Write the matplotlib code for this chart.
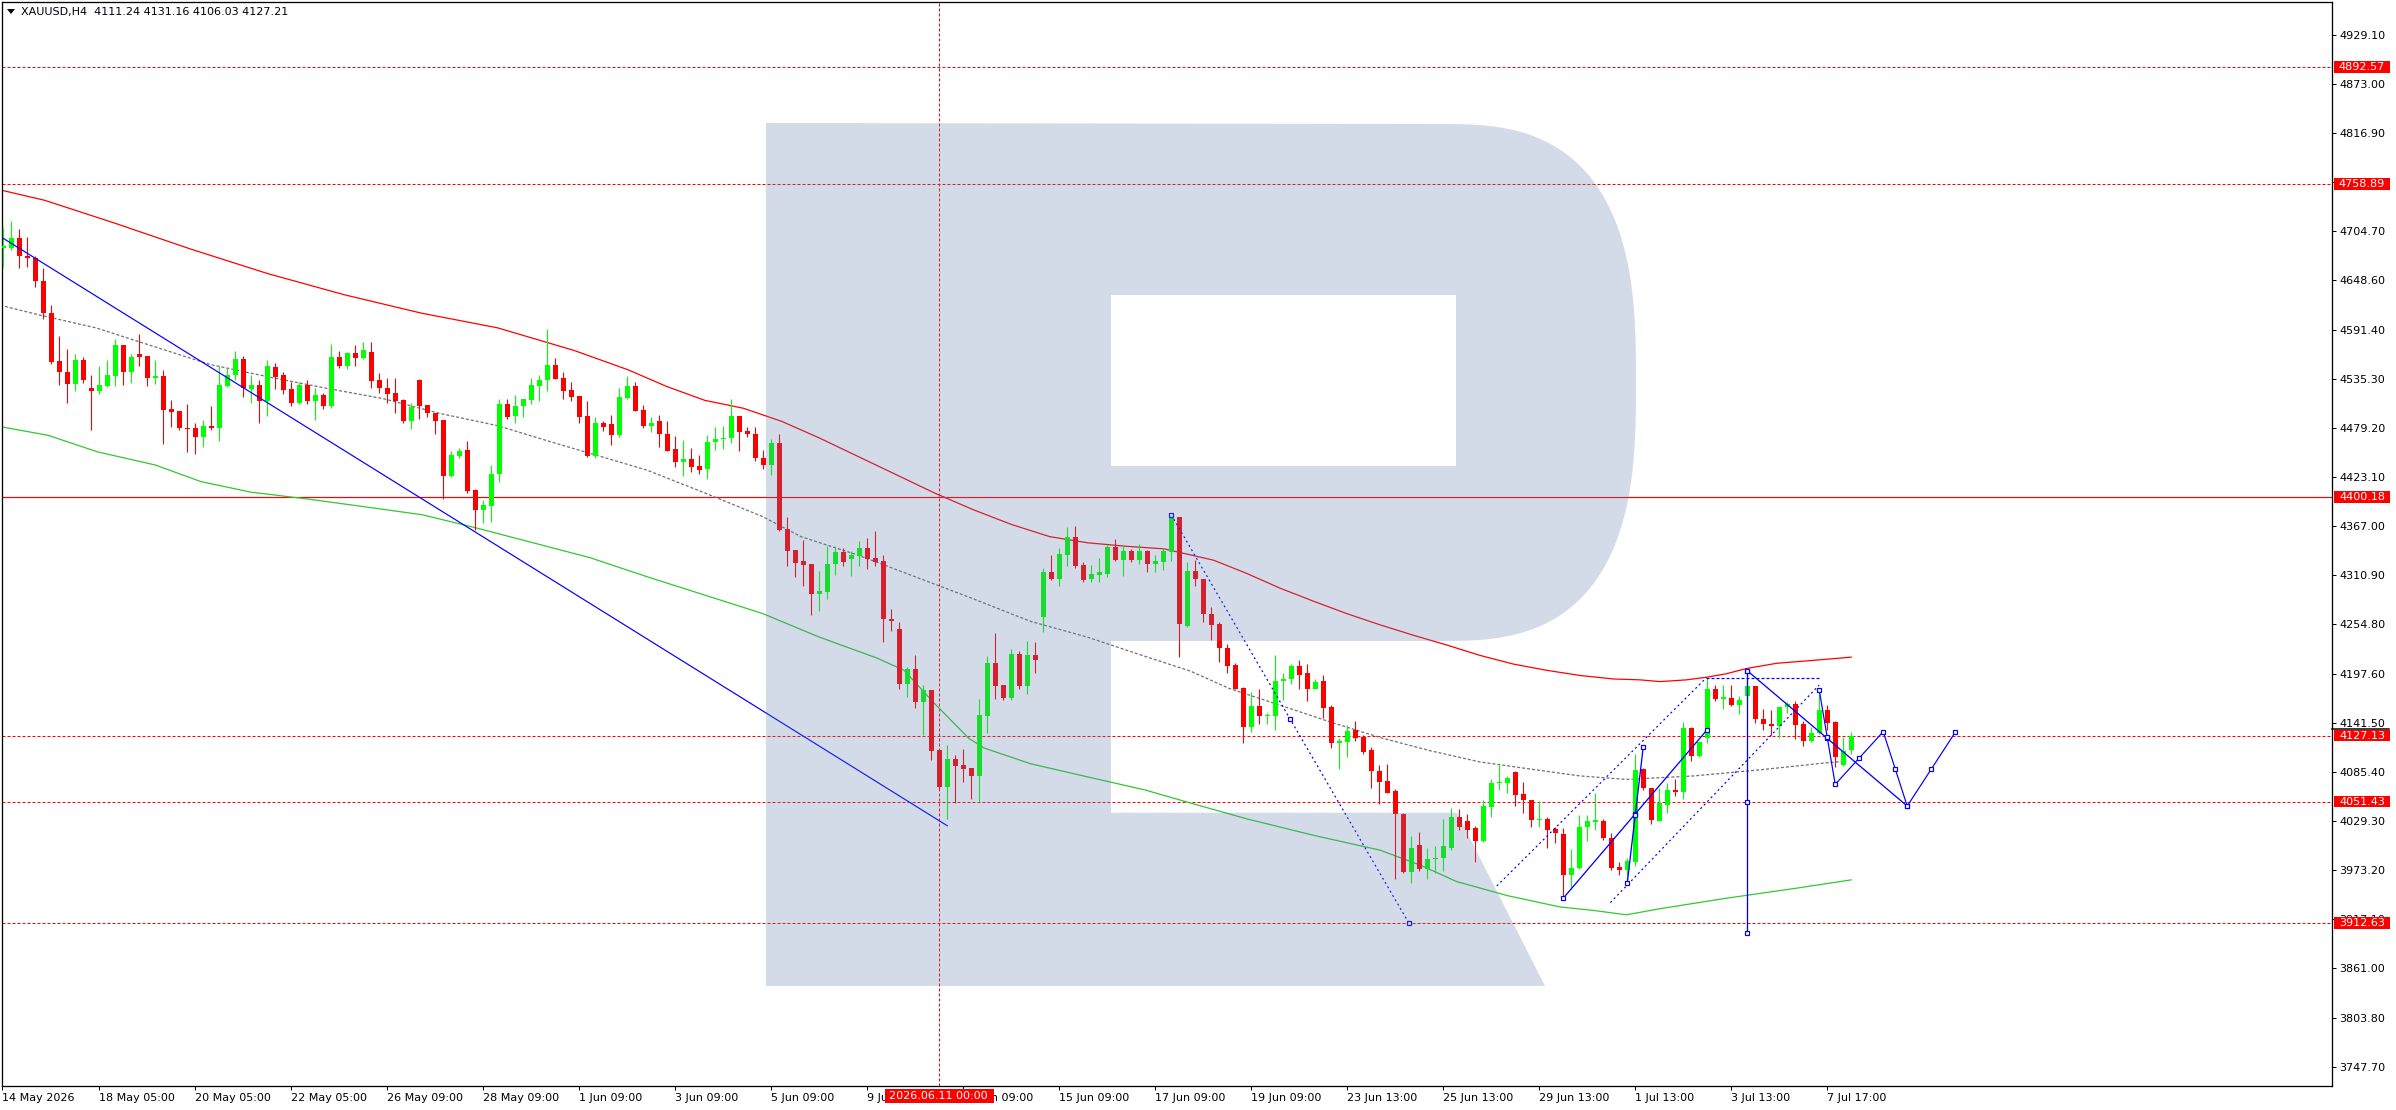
import numpy as np
import matplotlib
matplotlib.use("Agg")
import matplotlib.pyplot as plt
from matplotlib.patches import Rectangle, PathPatch, Polygon
from matplotlib.path import Path
from matplotlib.transforms import Affine2D

W, H = 2396, 1110
PX = 0.72  # one pixel in points at dpi 100

plt.rcParams['font.family'] = ['DejaVu Sans']
plt.rcParams['lines.scale_dashes'] = False

# XAUUSD H4 candles (bar 0 = 14 May 2026)
opens = [4686, 4686, 4697, 4676, 4674, 4648, 4611, 4556, 4543, 4530, 4557, 4525,
         4522, 4527, 4539, 4574, 4544, 4564, 4562, 4537, 4539, 4501, 4499, 4479,
         4479, 4469, 4482, 4479, 4528, 4540, 4558, 4524, 4529, 4510, 4549, 4540,
         4524, 4508, 4529, 4510, 4517, 4504, 4561, 4550, 4565, 4560, 4566, 4534,
         4525, 4520, 4511, 4487, 4534, 4506, 4496, 4488, 4424, 4447, 4454, 4408,
         4385, 4390, 4427, 4507, 4493, 4504, 4511, 4528, 4534, 4552, 4537, 4523,
         4516, 4493, 4447, 4485, 4484, 4471, 4514, 4527, 4500, 4482, 4487, 4473,
         4455, 4440, 4444, 4436, 4432, 4463, 4467, 4468, 4493, 4476, 4473, 4445,
         4437, 4462, 4364, 4340, 4327, 4324, 4289, 4292, 4324, 4337, 4329, 4333,
         4342, 4331, 4327, 4261, 4249, 4186, 4203, 4166, 4179, 4111, 4068, 4100,
         4094, 4090, 4081, 4150, 4210, 4185, 4170, 4221, 4184, 4219, 4263, 4314,
         4307, 4334, 4354, 4323, 4306, 4311, 4312, 4343, 4328, 4339, 4328, 4339,
         4324, 4326, 4337, 4377, 4253, 4316, 4307, 4266, 4255, 4228, 4208, 4182,
         4137, 4161, 4150, 4150, 4190, 4192, 4207, 4199, 4181, 4190, 4160, 4119,
         4120, 4134, 4126, 4111, 4087, 4075, 4064, 4037, 3971, 4002, 3975, 3986,
         3987, 3999, 4034, 4029, 4021, 4006, 4046, 4073, 4073, 4085, 4060, 4053,
         4030, 4032, 4020, 4015, 3968, 3976, 4022, 4028, 4029, 4010, 3977, 3973,
         3983, 4089, 4067, 4029, 4048, 4065, 4063, 4136, 4104, 4124, 4181, 4169,
         4170, 4162, 4172, 4184, 4146, 4141, 4138, 4160, 4163, 4140, 4121, 4130,
         4157, 4143, 4094, 4111.24]
highs = [4710, 4716, 4707, 4698, 4676, 4662, 4620, 4585, 4570, 4564, 4561, 4540,
         4550, 4557, 4581, 4574, 4564, 4587, 4562, 4557, 4546, 4511, 4499, 4507,
         4485, 4489, 4505, 4550, 4548, 4568, 4562, 4540, 4534, 4557, 4554, 4543,
         4532, 4532, 4534, 4525, 4519, 4576, 4568, 4566, 4574, 4578, 4578, 4542,
         4537, 4537, 4513, 4508, 4535, 4506, 4496, 4489, 4453, 4456, 4464, 4410,
         4397, 4437, 4512, 4513, 4517, 4513, 4537, 4540, 4593, 4559, 4543, 4532,
         4516, 4510, 4492, 4487, 4494, 4525, 4539, 4532, 4506, 4492, 4494, 4487,
         4470, 4466, 4457, 4449, 4471, 4481, 4482, 4513, 4493, 4480, 4480, 4454,
         4467, 4473, 4378, 4340, 4351, 4324, 4316, 4344, 4344, 4342, 4338, 4350,
         4353, 4362, 4334, 4272, 4257, 4206, 4220, 4185, 4179, 4111, 4116, 4105,
         4112, 4090, 4169, 4218, 4245, 4185, 4226, 4224, 4235, 4234, 4319, 4334,
         4342, 4366, 4367, 4326, 4323, 4331, 4345, 4352, 4345, 4341, 4347, 4340,
         4334, 4342, 4382, 4378, 4326, 4328, 4307, 4274, 4257, 4232, 4210, 4183,
         4177, 4181, 4153, 4219, 4199, 4209, 4214, 4209, 4192, 4197, 4162, 4124,
         4139, 4144, 4128, 4114, 4094, 4095, 4066, 4039, 4012, 4017, 3999, 4001,
         4032, 4044, 4043, 4037, 4024, 4053, 4077, 4095, 4081, 4087, 4074, 4053,
         4052, 4034, 4023, 4021, 3997, 4036, 4036, 4061, 4032, 4016, 3983, 3987,
         4106, 4090, 4067, 4067, 4073, 4078, 4143, 4137, 4121, 4193, 4185, 4185,
         4185, 4173, 4190, 4184, 4158, 4157, 4160, 4166, 4167, 4144, 4137, 4179,
         4162, 4144, 4126, 4131.16]
lows = [4664, 4683, 4663, 4664, 4641, 4604, 4553, 4529, 4508, 4522, 4531, 4477,
        4518, 4526, 4527, 4529, 4531, 4550, 4528, 4530, 4461, 4481, 4477, 4452,
        4450, 4458, 4477, 4464, 4526, 4534, 4515, 4508, 4485, 4493, 4524, 4518,
        4504, 4507, 4507, 4488, 4501, 4502, 4548, 4547, 4550, 4558, 4525, 4520,
        4508, 4496, 4485, 4478, 4490, 4492, 4473, 4398, 4423, 4445, 4405, 4363,
        4371, 4372, 4418, 4490, 4485, 4492, 4507, 4510, 4522, 4535, 4513, 4510,
        4485, 4446, 4445, 4476, 4460, 4469, 4513, 4499, 4479, 4475, 4458, 4453,
        4435, 4424, 4429, 4427, 4421, 4454, 4455, 4462, 4453, 4469, 4442, 4432,
        4426, 4362, 4321, 4309, 4298, 4265, 4270, 4284, 4311, 4321, 4310, 4321,
        4318, 4321, 4234, 4247, 4181, 4171, 4159, 4128, 4099, 4066, 4032, 4050,
        4074, 4055, 4052, 4130, 4169, 4168, 4168, 4181, 4175, 4199, 4246, 4305,
        4298, 4321, 4319, 4303, 4303, 4303, 4309, 4327, 4310, 4326, 4324, 4315,
        4315, 4317, 4327, 4217, 4251, 4299, 4257, 4237, 4212, 4199, 4180, 4119,
        4131, 4140, 4140, 4134, 4168, 4186, 4181, 4167, 4180, 4147, 4113, 4089,
        4103, 4121, 4106, 4067, 4049, 4062, 3963, 3970, 3958, 3972, 3963, 3970,
        3972, 3996, 4019, 4010, 3982, 4005, 4034, 4065, 4061, 4047, 4038, 4022,
        4023, 3998, 4004, 3943, 3951, 3975, 4006, 4019, 4008, 3973, 3968, 3962,
        3978, 4065, 4026, 4029, 4039, 4058, 4055, 4098, 4103, 4119, 4167, 4158,
        4161, 4152, 4167, 4142, 4134, 4128, 4125, 4153, 4123, 4115, 4120, 4129,
        4134, 4091, 4092, 4106.03]
closes = [4688, 4697, 4676, 4674, 4648, 4611, 4555, 4543, 4530, 4557, 4534, 4522,
          4529, 4540, 4574, 4544, 4561, 4561, 4537, 4539, 4500, 4498, 4479, 4478,
          4469, 4482, 4479, 4529, 4540, 4558, 4525, 4529, 4510, 4550, 4538, 4523,
          4508, 4529, 4510, 4517, 4504, 4561, 4550, 4565, 4560, 4569, 4533, 4525,
          4518, 4510, 4487, 4503, 4505, 4496, 4487, 4424, 4448, 4453, 4407, 4385,
          4391, 4427, 4507, 4492, 4505, 4513, 4529, 4534, 4552, 4536, 4522, 4515,
          4492, 4447, 4485, 4480, 4471, 4515, 4527, 4499, 4482, 4485, 4473, 4453,
          4440, 4444, 4435, 4431, 4463, 4467, 4468, 4493, 4475, 4473, 4445, 4437,
          4462, 4363, 4339, 4325, 4323, 4289, 4293, 4324, 4337, 4326, 4334, 4342,
          4329, 4326, 4261, 4258, 4186, 4203, 4166, 4179, 4110, 4068, 4100, 4092,
          4089, 4081, 4151, 4210, 4184, 4170, 4221, 4184, 4219, 4214, 4314, 4307,
          4335, 4354, 4321, 4305, 4312, 4315, 4343, 4328, 4339, 4328, 4339, 4324,
          4327, 4338, 4377, 4255, 4316, 4306, 4266, 4254, 4228, 4207, 4181, 4137,
          4161, 4150, 4151, 4190, 4192, 4207, 4197, 4181, 4189, 4159, 4119, 4121,
          4133, 4125, 4108, 4087, 4074, 4062, 4037, 3971, 3998, 3975, 3986, 3987,
          4001, 4034, 4023, 4019, 4006, 4047, 4073, 4074, 4079, 4059, 4053, 4030,
          4032, 4019, 4016, 3968, 3976, 4022, 4029, 4030, 4010, 3976, 3973, 3984,
          4088, 4067, 4031, 4050, 4065, 4063, 4136, 4104, 4120, 4181, 4169, 4171,
          4162, 4168, 4184, 4146, 4140, 4138, 4160, 4163, 4139, 4121, 4130, 4157,
          4142, 4103, 4109, 4127.21]

# moving averages (bar position, price)
red_ma_x = [-0.4, 5.2, 13.9, 23.5, 33.1, 42.6, 52.2, 61.8, 71.4, 78.1,
            82.9, 87.7, 92.5, 97.3, 102.0, 106.8, 111.6, 116.4, 121.2, 126.0,
            130.8, 135.5, 140.3, 145.1, 151.3, 155.4, 159.6, 163.8, 167.9, 172.1,
            176.3, 180.4, 184.6, 188.8, 192.9, 197.1, 201.3, 204.6, 207.1, 210.4,
            212.9, 215.4, 217.9, 221.7, 225.8, 231.0]
red_ma_y = [4752, 4740, 4714, 4684, 4656, 4632, 4611, 4594, 4568, 4546,
            4527, 4511, 4502, 4487, 4468, 4447, 4426, 4405, 4386, 4369,
            4355, 4348, 4344, 4341, 4328, 4313, 4296, 4281, 4267, 4254,
            4242, 4231, 4219, 4209, 4202, 4196, 4192, 4191, 4189, 4191,
            4194, 4198, 4204, 4210, 4213, 4217]
green_ma_x = [-0.4, 5.6, 11.8, 19.0, 24.7, 30.9, 38.1, 45.3, 52.4, 59.1,
              73.3, 80.5, 87.7, 94.9, 102.0, 109.2, 112.6, 116.4, 120.7, 122.6,
              128.4, 135.5, 142.7, 148.4, 155.4, 163.8, 172.1, 177.1, 181.7, 188.0,
              194.6, 198.8, 202.9, 207.1, 215.4, 223.8, 231.0]
green_ma_y = [4481, 4471, 4452, 4437, 4418, 4406, 4398, 4389, 4380, 4365,
              4331, 4309, 4288, 4267, 4240, 4216, 4202, 4164, 4124, 4113,
              4095, 4080, 4065, 4050, 4032, 4013, 3996, 3979, 3960, 3944,
              3931, 3927, 3922, 3929, 3941, 3952, 3962]
gray_ma_x = [-0.4, 4.4, 11.6, 18.7, 25.9, 33.1, 40.3, 47.5, 54.6, 61.8,
             69.0, 74.6, 80.5, 87.7, 94.9, 99.7, 106.8, 114.0, 121.2, 128.4,
             135.5, 142.7, 148.4, 153.3, 159.6, 165.8, 172.1, 178.3, 184.6, 190.8,
             197.1, 202.9, 211.3, 219.6, 227.9, 230.4]
gray_ma_y = [4620, 4609, 4594, 4573, 4552, 4538, 4525, 4513, 4496, 4482,
             4462, 4447, 4431, 4405, 4378, 4355, 4334, 4309, 4284, 4258,
             4240, 4218, 4201, 4181, 4162, 4143, 4125, 4110, 4097, 4089,
             4081, 4077, 4081, 4088, 4096, 4098]

# horizontal levels
dashed_levels = [4892.57, 4758.89, 4127.13, 4051.43, 3912.63]
solid_level = 4400.18
vline_bar = 117
vline_label = '2026.06.11 00:00'

# drawn objects (bar, price)
trend_x, trend_y = [0, 118], [4696.5, 4024]
drop_x, drop_y = [146, 175.7], [4380, 3912.6]
chan_up_x, chan_up_y = [186.7, 212.9], [3955, 4193.5]
chan_lo_x, chan_lo_y = [200.9, 227.0], [3936, 4185]
chan_top_x, chan_top_y = [212.9, 227.1], [4193.5, 4193.5]
wave1_x, wave1_y = [195, 213], [3941, 4134]
wave2_x, wave2_y = [203, 205], [3958, 4114]
vert_x, vert_y = [218, 218], [4201.5, 3900.7]
diag_x, diag_y = [218, 238], [4201.5, 4046.5]
fc_x = [227, 229, 235, 238, 244]
fc_y = [4179.4, 4071.3, 4131.7, 4046.5, 4130.9]

price_ticks = [4929.10, 4873.00, 4816.90, 4760.80, 4704.70, 4648.60, 4591.40,
               4535.30, 4479.20, 4423.10, 4367.00, 4310.90, 4254.80, 4197.60,
               4141.50, 4085.40, 4029.30, 3973.20, 3917.10, 3861.00, 3803.80, 3747.70]
time_ticks = [-0.16, 12, 24, 36, 48, 60, 72, 84, 96, 108, 120, 132, 144, 156,
              168, 180, 192, 204, 216, 228]
time_labels = ['14 May 2026', '18 May 05:00', '20 May 05:00', '22 May 05:00',
               '26 May 09:00', '28 May 09:00', '1 Jun 09:00', '3 Jun 09:00',
               '5 Jun 09:00', '9 Jun 09:00', '11 Jun 09:00', '15 Jun 09:00',
               '17 Jun 09:00', '19 Jun 09:00', '23 Jun 13:00', '25 Jun 13:00',
               '29 Jun 13:00', '1 Jul 13:00', '3 Jul 13:00', '7 Jul 17:00']
title = 'XAUUSD,H4  4111.24 4131.16 4106.03 4127.21'

fig = plt.figure(figsize=(W / 100, H / 100), dpi=100)
fig.patch.set_facecolor('white')
ax = fig.add_axes([2 / W, 24 / H, 2330 / W, 1084 / H])
ax.set_xlim(-0.16, 291.1)
ax.set_ylim(3726.0, 4967.1)
pix = Affine2D().scale(1 / W, -1 / H).translate(0, 1) + fig.transFigure

dash = (3 * PX, 2 * PX)
dot = (2 * PX, 3 * PX)

# levels
for lv in dashed_levels:
    ax.axhline(lv, color='#FF0000', lw=PX, dashes=dash, zorder=1)
ax.axhline(solid_level, color='#FF0000', lw=PX * 1.2, zorder=1)
ax.axvline(vline_bar, color='#FF0000', lw=PX, dashes=dash, zorder=1)

# moving averages
ax.plot(red_ma_x, red_ma_y, color='#FF0000', lw=0.9, zorder=2)
ax.plot(green_ma_x, green_ma_y, color='#32C832', lw=0.9, zorder=2)
ax.plot(gray_ma_x, gray_ma_y, color='#707070', lw=0.9, dashes=dash, zorder=2)

# candles
o, h, l, c = (np.array(a, dtype=float) for a in (opens, highs, lows, closes))
idx = np.arange(len(c))
cols = np.where(c >= o, '#00FF00', '#FF0000')
ax.vlines(idx, l, h, colors=cols, lw=PX * 1.1, zorder=3)
ax.bar(idx, np.maximum(np.abs(c - o), 1.3), bottom=np.minimum(o, c), width=0.6,
       color=cols, linewidth=0, zorder=3)

# analysis objects
blue = '#0000FF'
mk = dict(marker='s', ms=3.2, mfc='white', mec=blue, mew=PX * 1.2)
ax.plot(trend_x, trend_y, color=blue, lw=PX * 1.2, zorder=4)
ax.plot(drop_x, drop_y, color=blue, lw=PX * 1.2, dashes=dot, zorder=4)
ax.plot(drop_x + [np.mean(drop_x)], drop_y + [np.mean(drop_y)], ls='none', zorder=5,
        **dict(mk, ms=2.4))
ax.plot(chan_up_x, chan_up_y, color=blue, lw=PX * 1.2, dashes=dot, zorder=4)
ax.plot(chan_lo_x, chan_lo_y, color=blue, lw=PX * 1.2, dashes=dot, zorder=4)
ax.plot(chan_top_x, chan_top_y, color=blue, lw=PX * 1.2, dashes=dash, zorder=4)
for xs, ys in [(wave1_x, wave1_y), (wave2_x, wave2_y), (vert_x, vert_y), (diag_x, diag_y)]:
    ax.plot(xs, ys, color=blue, lw=PX * 1.3, zorder=4)
    ax.plot(xs + [np.mean(xs)], ys + [np.mean(ys)], ls='none', zorder=5, **mk)
ax.plot(fc_x, fc_y, color=blue, lw=PX * 1.2, zorder=4)
mid_x = [(a + b) / 2 for a, b in zip(fc_x[:-1], fc_x[1:])]
mid_y = [(a + b) / 2 for a, b in zip(fc_y[:-1], fc_y[1:])]
ax.plot(fc_x + mid_x, fc_y + mid_y, ls='none', zorder=5, **mk)

# watermark "R" logo (pixel geometry of the picture)
xc, yc, rx, ry, n = 1440, 382.5, 196, 258.5, 2.8
t = np.linspace(np.pi / 2, -np.pi / 2, 80)
arc = np.column_stack([xc + rx * np.abs(np.cos(t)) ** (2 / n),
                       yc - ry * np.sign(np.sin(t)) * np.abs(np.sin(t)) ** (2 / n)])
outer = np.vstack([[[766, 123]], arc, [[1111, 641], [1111, 812.7], [1457, 812.7],
                                        [1545, 986], [766, 986], [766, 123]]])
inner = np.array([[1111, 295], [1111, 466], [1456, 466], [1456, 295], [1111, 295]])
verts = np.vstack([outer, inner])
codes = ([Path.MOVETO] + [Path.LINETO] * (len(outer) - 2) + [Path.CLOSEPOLY] +
         [Path.MOVETO] + [Path.LINETO] * (len(inner) - 2) + [Path.CLOSEPOLY])
ax.add_patch(PathPatch(Path(verts, codes), transform=pix, facecolor='#5F7DAF',
                       edgecolor='none', alpha=0.27, zorder=6))

# axes styling
for sp in ax.spines.values():
    sp.set_color('black')
    sp.set_linewidth(PX * 1.3)
ax.yaxis.tick_right()
ax.set_yticks(price_ticks, labels=[f'{v:.2f}' for v in price_ticks])
ax.tick_params(axis='y', direction='out', length=3, width=PX, pad=2,
               labelsize=8, colors='black')
ax.set_xticks(time_ticks, labels=time_labels)
ax.tick_params(axis='x', direction='out', length=3, width=PX, pad=2,
               labelsize=8, colors='black')
for lab in ax.get_xticklabels():
    lab.set_horizontalalignment('left')

# price labels on the right scale
ytr = ax.get_yaxis_transform()
hh = 6.5
ax.plot([1.0, 1.0245], [dashed_levels[2] + hh + 1.2] * 2, transform=ytr,
        color='black', lw=PX * 1.5, clip_on=False, zorder=7)
for lv in dashed_levels + [solid_level]:
    ax.add_patch(Rectangle((1.0009, lv - hh), 0.024, 2 * hh, transform=ytr,
                           facecolor='#FF0000', edgecolor='none', clip_on=False, zorder=8))
    ax.text(1.0009 + 0.012, lv, f'{lv:.2f}', transform=ytr, color='white', fontsize=8,
            ha='center', va='center', zorder=9, clip_on=False)

# date label of the vertical line
xtr = ax.get_xaxis_transform()
ax.add_patch(Rectangle((vline_bar - 6.8, -17 / 1084), 13.6, 14 / 1084, transform=xtr,
                       facecolor='#FF0000', edgecolor='none', clip_on=False, zorder=8))
ax.text(vline_bar - 0.1, -10 / 1084, vline_label, transform=xtr, color='white', fontsize=8,
        ha='center', va='center', zorder=9, clip_on=False)

# title
fig.add_artist(Polygon([[7, 9], [15, 9], [11, 14]], closed=True, transform=pix,
                       facecolor='black', edgecolor='none'))
fig.text(21 / W, 1 - 12.5 / H, title, fontsize=8, color='#000010', ha='left', va='center')

fig.savefig('out.png', dpi=100, facecolor='white')
